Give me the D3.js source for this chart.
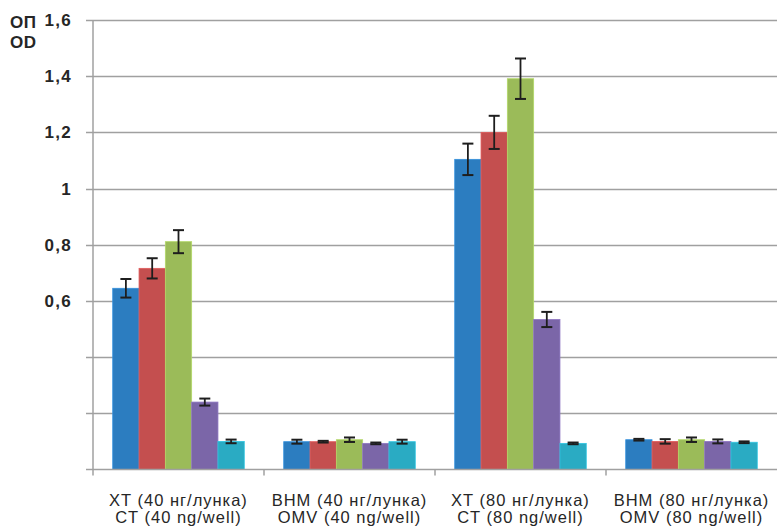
<!DOCTYPE html>
<html><head><meta charset="utf-8">
<script src="https://cdn.jsdelivr.net/npm/d3@7"></script>
<style>body{margin:0;background:#fff}svg{display:block}</style>
</head><body>
<svg id="c" width="777" height="531"></svg>
<script>
const categories = [
  ["XT (40 нг/лунка)", "CT (40 ng/well)"],
  ["ВНМ (40 нг/лунка)", "OMV (40 ng/well)"],
  ["XT (80 нг/лунка)", "CT (80 ng/well)"],
  ["ВНМ (80 нг/лунка)", "OMV (80 ng/well)"]
];
const seriesNames = ["s1", "s2", "s3", "s4", "s5"];
const seriesColors = ["#2c7dc0", "#c44f4f", "#9bbb59", "#7b66a8", "#2aabc3"];
const values = [
  [0.645, 0.716, 0.811, 0.240, 0.100],
  [0.099, 0.099, 0.106, 0.093, 0.099],
  [1.104, 1.200, 1.391, 0.534, 0.093],
  [0.106, 0.100, 0.106, 0.100, 0.097]
];
const errors = [
  [0.033, 0.036, 0.041, 0.0125, 0.0065],
  [0.007, 0.003, 0.008, 0.003, 0.007],
  [0.056, 0.059, 0.072, 0.027, 0.003],
  [0.003, 0.008, 0.008, 0.007, 0.003]
];
const yTicks = [0, 0.2, 0.4, 0.6, 0.8, 1, 1.2, 1.4, 1.6];
const yTickLabels = ["", "", "", "0,6", "0,8", "1", "1,2", "1,4", "1,6"];
const yTitle = ["ОП", "OD"];

const svg = d3.select("#c");
const mL = 93, mR = 777, mT = 20, mB = 469.5;
const y = d3.scaleLinear().domain([0, 1.6]).range([mB, mT]);
const x0 = d3.scaleBand().domain(d3.range(categories.length)).range([mL, mR]).paddingInner(0).paddingOuter(0);
const x1 = d3.scaleBand().domain(seriesNames).range([0, x0.bandwidth()]).paddingOuter(0.75).paddingInner(0);

// gridlines
svg.append("g").selectAll("line").data(yTicks.slice(1)).join("line")
  .attr("x1", mL - 7).attr("x2", mR)
  .attr("y1", d => Math.round(y(d)) + 0.5).attr("y2", d => Math.round(y(d)) + 0.5)
  .attr("stroke", "#a0a0a0").attr("stroke-width", 1.5);

// y axis line
svg.append("line").attr("x1", mL).attr("x2", mL).attr("y1", mT).attr("y2", mB)
  .attr("stroke", "#a0a0a0").attr("stroke-width", 1.5);
svg.append("line").attr("x1", mL - 7).attr("x2", mL).attr("y1", mB).attr("y2", mB)
  .attr("stroke", "#a0a0a0").attr("stroke-width", 1.5);

// y labels
svg.append("g").selectAll("text").data(yTicks).join("text")
  .attr("x", 72).attr("y", d => y(d)).attr("dy", "0.36em")
  .attr("text-anchor", "end")
  .attr("font-family", "Liberation Sans, Arial, sans-serif")
  .attr("font-size", 17).attr("font-weight", "bold").attr("fill", "#262626")
  .attr("letter-spacing", 1.3)
  .text((d, i) => yTickLabels[i]);
svg.append("g").selectAll("text").data(yTitle).join("text")
  .attr("x", 10).attr("y", (d, i) => 27.5 + i * 20)
  .attr("font-family", "Liberation Sans, Arial, sans-serif")
  .attr("font-size", 17).attr("font-weight", "bold").attr("fill", "#262626")
  .attr("letter-spacing", 0.6)
  .text(d => d);

// bars
const groups = svg.append("g").selectAll("g").data(values).join("g")
  .attr("transform", (d, i) => `translate(${x0(i)},0)`);
groups.selectAll("rect").data((d, gi) => d.map((v, si) => ({v, si, gi}))).join("rect")
  .attr("x", d => x1(seriesNames[d.si]))
  .attr("y", d => y(d.v))
  .attr("width", x1.bandwidth())
  .attr("height", d => mB - y(d.v))
  .attr("fill", d => seriesColors[d.si])
  .attr("stroke", d => d3.color(seriesColors[d.si]).brighter(0.4))
  .attr("stroke-width", 0.8);

// error bars
const eb = groups.selectAll("g.e").data((d, gi) => d.map((v, si) => ({v, si, e: errors[gi][si]}))).join("g").attr("class", "e");
eb.append("line")
  .attr("x1", d => x1(seriesNames[d.si]) + x1.bandwidth() / 2)
  .attr("x2", d => x1(seriesNames[d.si]) + x1.bandwidth() / 2)
  .attr("y1", d => y(d.v + d.e)).attr("y2", d => y(d.v - d.e))
  .attr("stroke", "#1e1e1e").attr("stroke-width", 1.8);
[1, -1].forEach(s => {
  eb.append("line")
    .attr("x1", d => x1(seriesNames[d.si]) + x1.bandwidth() / 2 - 5.5)
    .attr("x2", d => x1(seriesNames[d.si]) + x1.bandwidth() / 2 + 5.5)
    .attr("y1", d => y(d.v + s * d.e)).attr("y2", d => y(d.v + s * d.e))
    .attr("stroke", "#1e1e1e").attr("stroke-width", 2);
});

// x axis
svg.append("line").attr("x1", mL).attr("x2", mR).attr("y1", mB).attr("y2", mB)
  .attr("stroke", "#a0a0a0").attr("stroke-width", 1.5);
svg.append("g").selectAll("line").data(d3.range(categories.length)).join("line")
  .attr("x1", i => x0(i)).attr("x2", i => x0(i))
  .attr("y1", mB).attr("y2", mB + 6)
  .attr("stroke", "#a0a0a0").attr("stroke-width", 1.5);

// x labels
const xl = svg.append("g").selectAll("text").data(categories).join("text")
  .attr("x", (d, i) => x0(i) + x0.bandwidth() / 2)
  .attr("text-anchor", "middle")
  .attr("font-family", "Liberation Sans, Arial, sans-serif")
  .attr("font-size", 16.5).attr("fill", "#262626")
  .attr("letter-spacing", 1);
xl.selectAll("tspan").data(d => d).join("tspan")
  .attr("x", function() { return this.parentNode.getAttribute("x"); })
  .attr("y", (d, i) => 506 + i * 17)
  .text(d => d);
</script>
</body></html>
